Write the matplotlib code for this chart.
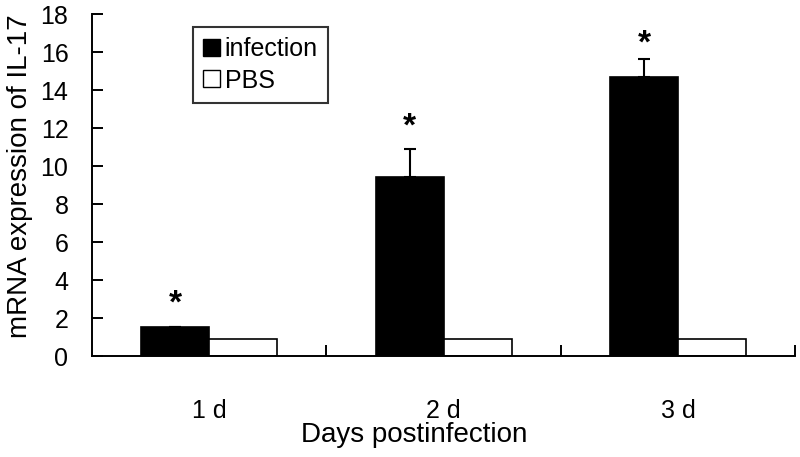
import numpy as np
import matplotlib
matplotlib.use('Agg')
import matplotlib.pyplot as plt
from matplotlib.patches import Patch

plt.rcParams['font.family'] = ['Liberation Sans', 'DejaVu Sans']

#data
days = ['1 d', '2 d', '3 d']
infection = [1.53, 9.42, 14.68]
infection_err = [0.0, 1.48, 0.95]
pbs = [0.9, 0.9, 0.9]
star_y = [2.75, 12.05, 16.4]

x = np.arange(len(days))
width = 0.29

fig = plt.figure(figsize=(8, 4.57), dpi=100)
ax = fig.add_axes([0.115, 0.221, 0.879, 0.748])

ax.bar(x - width / 2, infection, width, color='black', edgecolor='black', linewidth=1.2)
ax.bar(x + width / 2, pbs, width, color='white', edgecolor='black', linewidth=1.2)
ax.errorbar(x - width / 2, infection, yerr=[np.zeros(len(days)), infection_err],
            fmt='none', ecolor='black', elinewidth=1.5, capsize=4, capthick=1.5)

for i in range(len(days)):
    ax.text(x[i] - width / 2, star_y[i], '*', ha='center', va='center',
            fontsize=24, fontweight='bold')

ax.set_xlim(-0.5, 2.5)
ax.set_ylim(0, 18)
ax.set_yticks(np.arange(0, 19, 2))

#boundary ticks without labels, group labels as minor ticks
ax.set_xticks([0.5, 1.5, 2.5])
ax.set_xticklabels([])
ax.set_xticks(x, minor=True)
ax.set_xticklabels(days, minor=True)
ax.tick_params(axis='x', which='major', direction='in', length=8, width=1.4)
ax.tick_params(axis='x', which='minor', length=0, pad=31, labelsize=18)
ax.tick_params(axis='y', direction='in', length=8, width=1.4, pad=17, labelsize=18)

for s in ['top', 'right']:
    ax.spines[s].set_visible(False)
for s in ['left', 'bottom']:
    ax.spines[s].set_linewidth(1.4)

ax.set_xlabel('Days postinfection', fontsize=20)
ax.xaxis.set_label_coords(0.458, -0.231)
ax.xaxis.label.set_va('center')
ax.set_ylabel('mRNA expression of IL-17', fontsize=20)
ax.yaxis.set_label_coords(-0.102, 0.525)
ax.yaxis.label.set_va('center')

handles = [Patch(facecolor='black', edgecolor='black', label='infection'),
           Patch(facecolor='white', edgecolor='black', label='PBS')]
leg = ax.legend(handles=handles, loc='upper left', bbox_to_anchor=(0.1437, 0.962),
                borderaxespad=0, fontsize=18, handlelength=0.66, handleheight=0.66,
                handletextpad=0.2, borderpad=0.4, labelspacing=0.3, fancybox=False)
leg.get_frame().set_edgecolor('black')
leg.get_frame().set_linewidth(1.5)

plt.savefig('out.png', dpi=100)
